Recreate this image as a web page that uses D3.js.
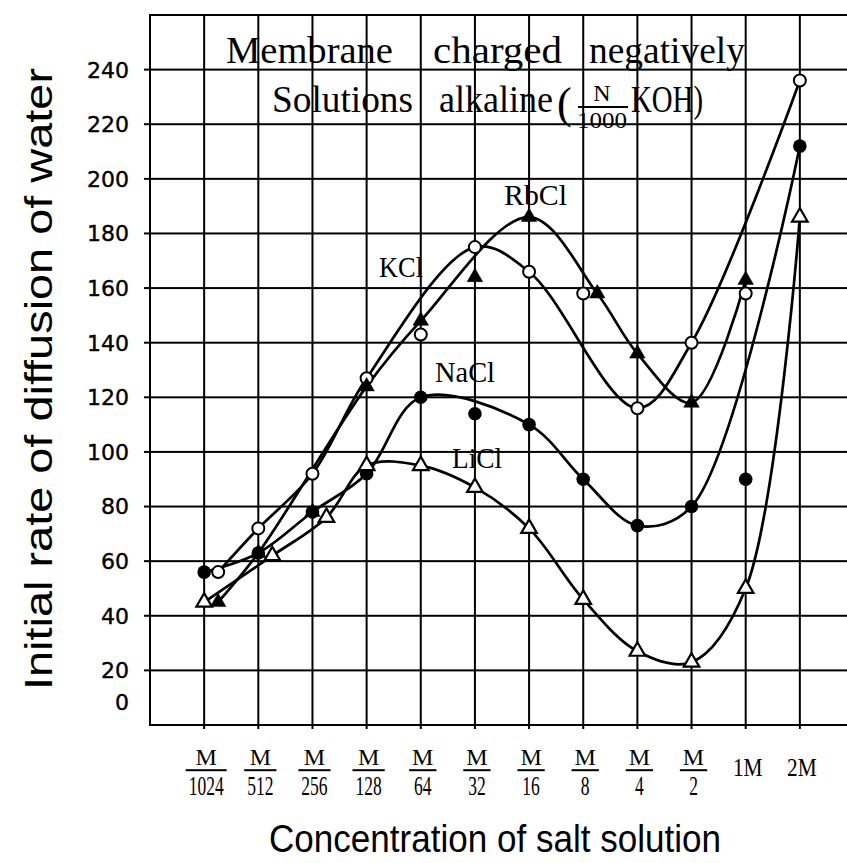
<!DOCTYPE html>
<html><head><meta charset="utf-8">
<script src="https://cdn.jsdelivr.net/npm/d3@7"></script>
<style>body{margin:0;background:#fff} svg{display:block}</style>
</head><body>
<svg id="chart" width="847" height="863"></svg>
<script>
// ---------- data ----------
const categories = ["M/1024","M/512","M/256","M/128","M/64","M/32","M/16","M/8","M/4","M/2","1M","2M"];
const yTicks = [0,20,40,60,80,100,120,140,160,180,200,220,240];
const seriesNames = ["NaCl","KCl","LiCl","RbCl"];
const naclValues = [56, 63, 78, 92, 120, 114, 110, 90, 73, 80, 90, 212];
const kclValues  = [56, 72, 92, 127, 143, 175, 166, 158, 116, 140, 158, 236];
const liclValues = [45, 62, 76, 95, 95, 87, 72, 46, 27, 23, 50, 186];
const rbclValues = [45, 63, 78, 124, 148, 164, 186, 158, 136, 118, 163, null];
// points that the hand-drawn curve does not pass through (category indices)
const naclOffCurve = [5, 10];
const kclOffCurve  = [4, 7, 10];
const liclOffCurve = [];
const rbclOffCurve = [2, 5];

// ---------- setup ----------
const svg = d3.select("#chart");
const x = d3.scaleLinear().domain([-1, 12]).range([150, 854]);
const y = d3.scaleLinear().domain([0, 260]).range([725, 15]);
const serif = "'Liberation Serif', 'DejaVu Serif', serif";
const sans = "'Liberation Sans Narrow', 'Liberation Sans', 'DejaVu Sans', sans-serif";
const ink = "#000";

const series = [
  {name: seriesNames[0], values: naclValues, off: naclOffCurve, shape: "circle", fill: true},
  {name: seriesNames[1], values: kclValues,  off: kclOffCurve,  shape: "circle", fill: false},
  {name: seriesNames[2], values: liclValues, off: liclOffCurve, shape: "triangle", fill: false},
  {name: seriesNames[3], values: rbclValues, off: rbclOffCurve, shape: "triangle", fill: true}
];

// ---------- grid ----------
const idx = d3.range(categories.length);
const gridG = svg.append("g");
idx.forEach(i => {
  gridG.append("rect").attr("x", x(i) - 1).attr("y", y(260)).attr("width", 2).attr("height", y(0) + 4 - y(260))
    .attr("fill", "#000");
});
yTicks.filter(v => v > 0).forEach(v => {
  gridG.append("rect").attr("x", x(-1) - 6).attr("y", y(v) - 1).attr("width", x(12) - x(-1) + 6).attr("height", 2)
    .attr("fill", "#000");
});

// frame
const fp = d3.path();
fp.moveTo(x(12), y(260)); fp.lineTo(x(-1), y(260)); fp.lineTo(x(-1), y(0)); fp.lineTo(x(12), y(0));
svg.append("path").attr("d", fp.toString())
  .attr("fill", "none").attr("stroke", ink).attr("stroke-width", 2);

const g = svg.append("g");
// y tick labels
g.selectAll(".yt").data(yTicks).enter().append("text").attr("class", "yt")
  .attr("x", 129)
  .attr("y", d => d === 0 ? y(0) - 23 : y(d))
  .attr("dy", "0.36em")
  .attr("text-anchor", "end")
  .attr("font-family", "'DejaVu Sans', sans-serif")
  .attr("font-size", 22)
  .attr("fill", ink).attr("stroke", ink).attr("stroke-width", 0.4)
  .text(d => d);

// x tick labels (fractions)
idx.forEach(i => {
  const c = categories[i];
  const cx = x(i) + 2;
  if (c.includes("/")) {
    const [num, den] = c.split("/");
    const tn = g.append("text").attr("x", cx).attr("y", 765).attr("text-anchor", "middle")
      .attr("font-family", serif).attr("font-size", 24).attr("fill", ink).text(num);
    const td = g.append("text").attr("x", cx).attr("y", 795).attr("text-anchor", "middle")
      .attr("font-family", serif).attr("font-size", 26.5).attr("fill", ink).text(den);
    const dw = td.node().getComputedTextLength() * 0.66;
    td.attr("textLength", dw).attr("lengthAdjust", "spacingAndGlyphs");
    const nw = tn.node().getComputedTextLength();
    const bw = Math.max(nw, dw) + 6;
    g.append("rect").attr("x", cx - bw / 2).attr("y", 769.2).attr("width", bw).attr("height", 2)
      .attr("fill", ink);
  } else {
    const t = g.append("text").attr("x", cx).attr("y", 776).attr("text-anchor", "middle")
      .attr("font-family", serif).attr("font-size", 26).attr("fill", ink).text(c);
    t.attr("textLength", t.node().getComputedTextLength() * 0.82).attr("lengthAdjust", "spacingAndGlyphs");
  }
});

// axis titles
svg.append("text")
  .attr("transform", `translate(52, 379) rotate(-90)`)
  .attr("text-anchor", "middle")
  .attr("font-family", sans).attr("font-size", 39).attr("fill", ink)
  .attr("textLength", 622).attr("lengthAdjust", "spacingAndGlyphs")
  .text("Initial rate of diffusion of water");
svg.append("text")
  .attr("x", 495).attr("y", 852)
  .attr("text-anchor", "middle")
  .attr("font-family", sans).attr("font-size", 38).attr("fill", ink)
  .attr("textLength", 452).attr("lengthAdjust", "spacingAndGlyphs")
  .text("Concentration of salt solution");

// title annotation
const title = svg.append("g").attr("font-family", serif).attr("fill", ink);
[["Membrane", 226, 167], ["charged", 433, 129], ["negatively", 589, 156]].forEach(([w, tx, tl]) => {
  title.append("text").attr("x", tx).attr("y", 63).attr("font-size", 37)
    .attr("textLength", tl).attr("lengthAdjust", "spacingAndGlyphs").text(w);
});
[["Solutions", 272, 141], ["alkaline", 439, 114]].forEach(([w, tx, tl]) => {
  title.append("text").attr("x", tx).attr("y", 112).attr("font-size", 37)
    .attr("textLength", tl).attr("lengthAdjust", "spacingAndGlyphs").text(w);
});
title.append("text").attr("x", 557).attr("y", 118).attr("font-size", 44).text("(");
title.append("text").attr("x", 602).attr("y", 101).attr("font-size", 24).attr("text-anchor", "middle").text("N");
title.append("text").attr("x", 602).attr("y", 128).attr("font-size", 24).attr("text-anchor", "middle")
  .attr("textLength", 50).attr("lengthAdjust", "spacingAndGlyphs").text("1000");
title.append("text").attr("x", 631).attr("y", 112).attr("font-size", 37)
  .attr("textLength", 72).attr("lengthAdjust", "spacingAndGlyphs").text("KOH)");
title.append("rect").attr("x", 578).attr("y", 106).attr("width", 50).attr("height", 2).attr("fill", ink);

// ---------- marker positions (dodge coincident markers sideways) ----------
const dodge = 14;
const placed = categories.map(() => []);
series.forEach(s => {
  s.points = s.values.map((v, i) => {
    if (v == null) return null;
    const py = y(v);
    const conflict = k => placed[i].some(p => p.k === k && Math.abs(p.py - py) < 6);
    let k = 0;
    if (conflict(0)) k = conflict(1) ? 0 : 1;
    placed[i].push({k, py});
    return {i, v, px: x(i) + k * dodge, py, onCurve: !s.off.includes(i)};
  }).filter(p => p);
});

// ---------- curves ----------
const line = d3.line().x(d => d.px).y(d => d.py).curve(d3.curveCatmullRom.alpha(0.5));
svg.append("g").selectAll(".curve").data(series).enter().append("path").attr("class", "curve")
  .attr("d", s => line(s.points.filter(p => p.onCurve)))
  .attr("fill", "none").attr("stroke", ink).attr("stroke-width", 2.7)
  .attr("stroke-linejoin", "round").attr("stroke-linecap", "round");

// ---------- markers ----------
const tri = d3.symbol().type(d3.symbolTriangle).size(105);
series.forEach(s => {
  const mg = svg.append("g");
  if (s.shape === "circle") {
    mg.selectAll(".mk").data(s.points).enter().append("circle").attr("class", "mk")
      .attr("cx", d => d.px).attr("cy", d => d.py)
      .attr("r", s.fill ? 6.8 : 6)
      .attr("fill", s.fill ? ink : "#fff")
      .attr("stroke", ink).attr("stroke-width", s.fill ? 0 : 2);
  } else {
    mg.selectAll(".mk").data(s.points).enter().append("path").attr("class", "mk")
      .attr("transform", d => `translate(${d.px},${d.py})`)
      .attr("d", tri)
      .attr("fill", s.fill ? ink : "#fff")
      .attr("stroke", ink).attr("stroke-width", s.fill ? 0.5 : 2.2);
  }
});

// ---------- series labels ----------
const labels = svg.append("g").attr("font-family", serif).attr("font-size", 30).attr("fill", ink);
[["RbCl", 504, 205, 63], ["KCl", 379, 277, 44], ["NaCl", 435, 382, 60], ["LiCl", 452, 468, 50]]
  .forEach(([t, lx, ly, tl]) => {
    labels.append("text").attr("x", lx).attr("y", ly)
      .attr("textLength", tl).attr("lengthAdjust", "spacingAndGlyphs").text(t);
  });
</script>
</body></html>
